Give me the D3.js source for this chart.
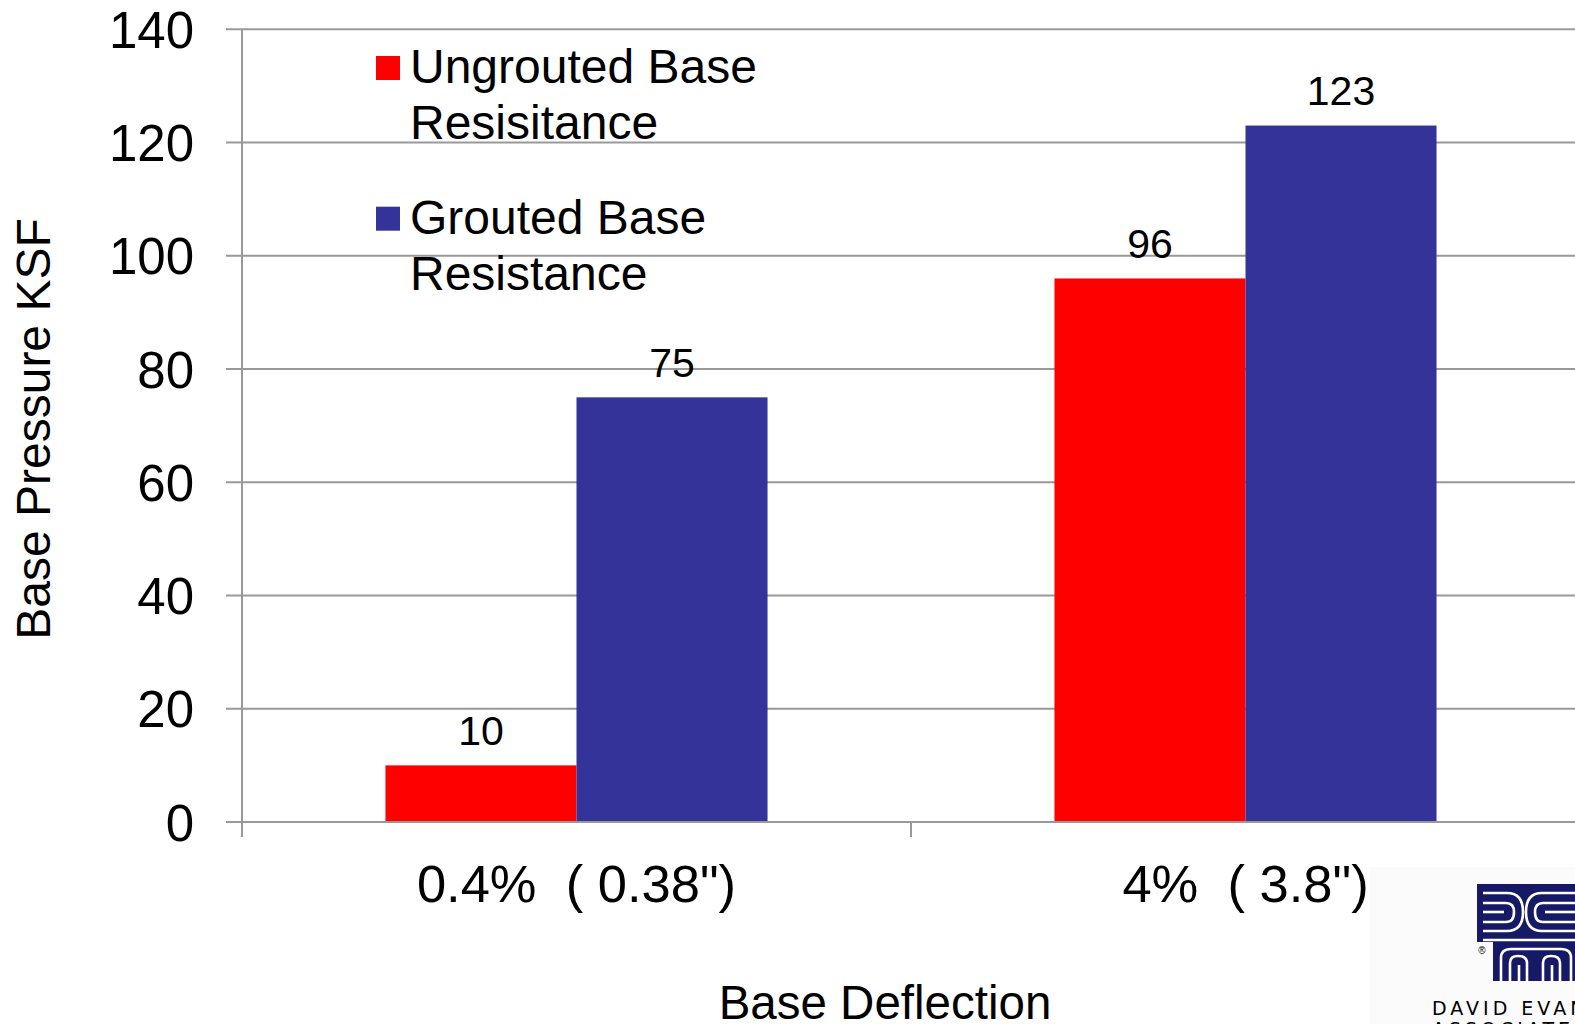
<!DOCTYPE html>
<html>
<head>
<meta charset="utf-8">
<script src="https://cdn.jsdelivr.net/npm/d3@7/dist/d3.min.js"></script>
<style>
  html, body { margin: 0; padding: 0; background: #ffffff; }
  svg { display: block; }
  text { font-family: "Liberation Sans", Arial, sans-serif; fill: #000; }
</style>
</head>
<body>
<svg id="chart" width="1575" height="1024"></svg>
<script>
// Deflection cases on the x axis
const categories = ['0.4%  ( 0.38")', '4%  ( 3.8")'];
// Series and their base pressure values (KSF)
const seriesNames = ["Ungrouted Base Resisitance", "Grouted Base Resistance"];
const legendLines = [["Ungrouted Base", "Resisitance"], ["Grouted Base", "Resistance"]];
const ungrouted = [10, 96];
const grouted = [75, 123];
const yTicks = [0, 20, 40, 60, 80, 100, 120, 140];
const seriesColors = ["#ff0000", "#333399"];

const svg = d3.select("#chart");
const gridColor = "#999999";

const x = d3.scaleBand().domain(categories).range([242, 1580]).paddingInner(0).paddingOuter(0);
const xs = d3.scaleBand().domain(seriesNames).range([0, x.bandwidth()]).paddingInner(0).paddingOuter(0.751);
const y = d3.scaleLinear().domain([0, 140]).range([822, 29.3]);

// Horizontal gridlines (with the left tick stubs)
svg.append("g").selectAll("line").data(yTicks).join("line")
  .attr("x1", 226).attr("x2", 1580)
  .attr("y1", d => y(d)).attr("y2", d => y(d))
  .attr("stroke", gridColor).attr("stroke-width", 2);

// Y axis labels
const yAxis = d3.axisLeft(y).tickValues(yTicks).tickSize(0).tickPadding(0);
const gy = svg.append("g").attr("transform", "translate(194,0)").call(yAxis);
gy.select(".domain").remove();
gy.selectAll("text")
  .attr("x", 0).attr("dy", null).attr("y", 18)
  .attr("text-anchor", "end")
  .style("font-family", '"Liberation Sans", Arial, sans-serif')
  .style("font-size", "51px").attr("fill", "#000");

// Bars
const rows = categories.map((c, i) => ({ cat: c, vals: [ungrouted[i], grouted[i]] }));
const groups = svg.append("g").selectAll("g").data(rows).join("g")
  .attr("transform", d => `translate(${x(d.cat)},0)`);
groups.selectAll("rect").data(d => d.vals.map((v, k) => ({ v, k }))).join("rect")
  .attr("x", d => xs(seriesNames[d.k]))
  .attr("width", xs.bandwidth())
  .attr("y", d => y(d.v))
  .attr("height", d => y(0) - y(d.v))
  .attr("fill", d => seriesColors[d.k]);

// Value labels above bars
groups.selectAll("text").data(d => d.vals.map((v, k) => ({ v, k }))).join("text")
  .attr("x", d => xs(seriesNames[d.k]) + xs.bandwidth() / 2)
  .attr("y", d => y(d.v) - 20.5)
  .attr("text-anchor", "middle")
  .style("font-size", "41px")
  .text(d => d.v);

// Axis lines
svg.append("line").attr("x1", 242).attr("x2", 242).attr("y1", y(140)).attr("y2", 837)
  .attr("stroke", gridColor).attr("stroke-width", 2);
svg.append("line").attr("x1", 226).attr("x2", 1580).attr("y1", y(0)).attr("y2", y(0))
  .attr("stroke", gridColor).attr("stroke-width", 2);

// Category axis with tick marks at band boundaries
const xAxis = d3.axisBottom(x).tickSize(0).tickPadding(0);
const gx = svg.append("g").attr("transform", `translate(0,${y(0)})`).call(xAxis);
gx.select(".domain").remove();
gx.selectAll("text")
  .attr("dy", null).attr("y", 79.5)
  .style("font-family", '"Liberation Sans", Arial, sans-serif')
  .style("font-size", "52.5px").style("white-space", "pre").attr("fill", "#000");
svg.append("g").selectAll("line").data([242, x(categories[1]), 1580]).join("line")
  .attr("x1", d => d).attr("x2", d => d)
  .attr("y1", y(0)).attr("y2", 837)
  .attr("stroke", gridColor).attr("stroke-width", 2);

// Axis titles
svg.append("text")
  .attr("transform", "translate(50,429) rotate(-90)")
  .attr("text-anchor", "middle")
  .style("font-size", "48px")
  .text("Base Pressure KSF");
svg.append("text")
  .attr("x", 885).attr("y", 1019)
  .attr("text-anchor", "middle")
  .style("font-size", "47.5px")
  .text("Base Deflection");

// Legend
const legend = svg.append("g");
const legendTops = [56, 206.7];
legendLines.forEach((lines, i) => {
  legend.append("rect")
    .attr("x", 376).attr("y", legendTops[i]).attr("width", 24).attr("height", 24)
    .attr("fill", seriesColors[i]);
  lines.forEach((t, j) => {
    legend.append("text")
      .attr("x", 410).attr("y", legendTops[i] + 27.3 + j * 55.5)
      .style("font-size", "48px")
      .text(t);
  });
});

// Company mark in the lower right corner
const logo = svg.append("g");
logo.append("rect").attr("x", 1370).attr("y", 867).attr("width", 205).attr("height", 157)
  .attr("fill", "#fbfbfb");
const mark = logo.append("g").attr("transform", "translate(1477,884)");
const navy = "#161a66";
mark.append("rect").attr("x", 0).attr("y", 0).attr("width", 100).attr("height", 58).attr("fill", navy);
mark.append("rect").attr("x", 16).attr("y", 56).attr("width", 84).attr("height", 41).attr("fill", navy);
const whitePaths = [
  "M6,9 H30 Q46,9 46,28 Q46,47 30,47 H6",
  "M6,19 H29 Q37,19 37,28 Q37,38 29,38 H6",
  "M6,28 H27",
  "M100,9 H65 Q49,9 49,28 Q49,47 65,47 H100",
  "M100,19 H66 Q58,19 58,28 Q58,38 66,38 H100",
  "M100,28 H68",
  "M6,56 H100",
  "M24,97 V74 Q24,65 34,65 H84 Q94,65 94,74 V97",
  "M33,97 V79 Q33,72 41,72 Q50,72 50,79 V97",
  "M42,97 V81",
  "M66,97 V79 Q66,72 74,72 Q83,72 83,79 V97",
  "M75,97 V81"
];
mark.selectAll("path").data(whitePaths).join("path")
  .attr("d", d => d).attr("fill", "none").attr("stroke", "#ffffff").attr("stroke-width", 2.6);
logo.append("text").attr("x", 1482).attr("y", 954).attr("text-anchor", "middle")
  .style("font-size", "10px").attr("fill", "#9a9690").text("®");
logo.append("text").attr("x", 1432).attr("y", 1015)
  .style("font-family", '"DejaVu Sans", sans-serif')
  .style("font-size", "19px").style("letter-spacing", "4px").attr("fill", "#a8a39a")
  .text("DAVID EVANS");
logo.append("text").attr("x", 1432).attr("y", 1036)
  .style("font-family", '"DejaVu Sans", sans-serif')
  .style("font-size", "19px").style("letter-spacing", "4px").attr("fill", "#a8a39a")
  .text("ASSOCIATES");
</script>
</body>
</html>
